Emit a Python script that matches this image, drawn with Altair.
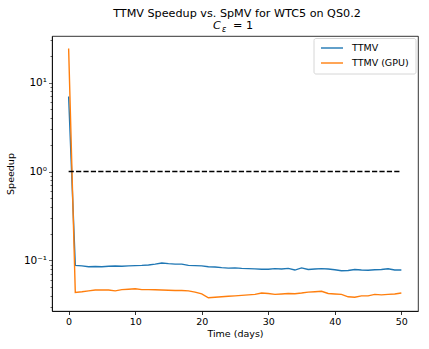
import altair as alt
import pandas as pd

# Simulation days and measured speedups (TTMV time / SpMV time ratio)
days = list(range(0, 51))
ttmv = [7.0, 0.088, 0.087, 0.085, 0.0855, 0.085, 0.086, 0.0865, 0.086, 0.087,
        0.0875, 0.088, 0.089, 0.091, 0.0935, 0.092, 0.091, 0.091, 0.088, 0.0875,
        0.087, 0.085, 0.0845, 0.083, 0.082, 0.0825, 0.0815, 0.081, 0.0805, 0.0795,
        0.0795, 0.081, 0.080, 0.0815, 0.078, 0.0825, 0.079, 0.080, 0.081, 0.080,
        0.0785, 0.0765, 0.077, 0.079, 0.078, 0.0775, 0.0785, 0.079, 0.0805, 0.078,
        0.078]
ttmv_gpu = [24.3, 0.0437, 0.0445, 0.0455, 0.0465, 0.0465, 0.0465, 0.0455, 0.047, 0.0475,
            0.048, 0.047, 0.047, 0.0468, 0.0465, 0.0462, 0.046, 0.046, 0.0455, 0.044,
            0.042, 0.038, 0.0385, 0.039, 0.0395, 0.040, 0.0405, 0.041, 0.0415, 0.043,
            0.0425, 0.0415, 0.042, 0.0425, 0.0422, 0.043, 0.044, 0.0445, 0.045, 0.0425,
            0.042, 0.0415, 0.039, 0.0385, 0.040, 0.040, 0.0415, 0.041, 0.0415, 0.042,
            0.043]
series_names = ["TTMV", "TTMV (GPU)"]
series_colors = ["#1f77b4", "#ff7f0e"]

# Break-even reference line
ref_days = [0, 50]
ref_speedup = [1, 1]

x_ticks = [0, 10, 20, 30, 40, 50]
y_major = [0.1, 1, 10]
y_minor = [0.03, 0.04, 0.05, 0.06, 0.07, 0.08, 0.09,
           0.2, 0.3, 0.4, 0.5, 0.6, 0.7, 0.8, 0.9,
           2, 3, 4, 5, 6, 7, 8, 9, 20, 30]

FONT = "DejaVu Sans"
W, H = 366, 275

df = pd.DataFrame({
    "day": days * 2,
    "speedup": ttmv + ttmv_gpu,
    "series": [series_names[0]] * len(days) + [series_names[1]] * len(days),
})
ref = pd.DataFrame({"day": ref_days, "speedup": ref_speedup})

x_scale = alt.Scale(domain=[-2.5, 52.5], nice=False, zero=False)
y_scale = alt.Scale(type="log", domain=[0.027, 33.5], nice=False)

x_enc = alt.X("day:Q", scale=x_scale, title="Time (days)",
              axis=alt.Axis(values=x_ticks, grid=False, tickSize=3.5, labelPadding=2,
                            labelFontSize=9.5, titleFontSize=9.5, titleFontWeight="normal",
                            titlePadding=2, domainColor="black", tickColor="black",
                            labelColor="black", titleColor="black",
                            domainWidth=0.8, tickWidth=0.8, labelFont=FONT, titleFont=FONT))

all_y = sorted(y_major + y_minor)
y_enc = alt.Y("speedup:Q", scale=y_scale, title="Speedup",
              axis=alt.Axis(values=all_y, grid=False,
                            tickSize={"condition": {"test": "indexof([0.1, 1, 10], datum.value) >= 0", "value": 3.5}, "value": 2},
                            labelExpr="datum.value == 0.1 ? '10⁻¹' : datum.value == 1 ? '10⁰' : datum.value == 10 ? '10¹' : ''",
                            labelPadding=2, labelFontSize=10.5, titleFontSize=9.5,
                            titleFontWeight="normal", titlePadding=8,
                            domainColor="black", tickColor="black", labelColor="black",
                            titleColor="black", domainWidth=0.8, tickWidth=0.6,
                            labelFont=FONT, titleFont=FONT))

lines = alt.Chart(df).mark_line(strokeWidth=1.4, clip=True).encode(
    x=x_enc,
    y=y_enc,
    color=alt.Color("series:N",
                    scale=alt.Scale(domain=series_names, range=series_colors),
                    legend=None),
)

ref_line = alt.Chart(ref).mark_line(color="black", strokeWidth=1.4,
                                    strokeDash=[5.2, 2.2]).encode(
    x=alt.X("day:Q", scale=x_scale),
    y=alt.Y("speedup:Q", scale=y_scale),
)

# Legend box in the upper right corner
one = pd.DataFrame({"k": [0]})
legend_box = alt.Chart(one).mark_rect(fill="white", stroke="#cccccc", strokeWidth=0.8,
                                      cornerRadius=2).encode(
    x=alt.value(262), x2=alt.value(364), y=alt.value(2.5), y2=alt.value(38))
legend_parts = [legend_box]
for i, (name, col) in enumerate(zip(series_names, series_colors)):
    yy = 12 + 15 * i
    legend_parts.append(alt.Chart(one).mark_rule(color=col, strokeWidth=1.4).encode(
        x=alt.value(269), x2=alt.value(291), y=alt.value(yy)))
    legend_parts.append(alt.Chart(pd.DataFrame({"t": [name]})).mark_text(
        font=FONT, fontSize=9.5, color="black", align="left", baseline="middle").encode(
        text="t:N", x=alt.value(300), y=alt.value(yy)))

# Two-line title with an italic C and subscript epsilon on the second line
title_df = pd.DataFrame({"t": ["TTMV Speedup vs. SpMV for WTC5 on QS0.2"]})
title1 = alt.Chart(title_df).mark_text(font=FONT, fontSize=11.2, color="black",
                                       align="center", baseline="alphabetic").encode(
    text="t:N", x=alt.value(W / 2 + 2), y=alt.value(-19))
sub_c = alt.Chart(pd.DataFrame({"t": ["C"]})).mark_text(
    font=FONT, fontSize=11.2, fontStyle="italic", color="black",
    align="left", baseline="alphabetic").encode(
    text="t:N", x=alt.value(161), y=alt.value(-7))
sub_e = alt.Chart(pd.DataFrame({"t": ["ε"]})).mark_text(
    font=FONT, fontSize=8, fontStyle="italic", color="black",
    align="left", baseline="alphabetic").encode(
    text="t:N", x=alt.value(170), y=alt.value(-4.5))
sub_rest = alt.Chart(pd.DataFrame({"t": ["= 1"]})).mark_text(
    font=FONT, fontSize=11.2, color="black",
    align="left", baseline="alphabetic").encode(
    text="t:N", x=alt.value(181), y=alt.value(-7))

chart = alt.layer(lines, ref_line, *legend_parts, title1, sub_c, sub_e, sub_rest).properties(
    width=W, height=H,
    autosize=alt.AutoSizeParams(type="none"),
    padding={"left": 52, "top": 36, "right": 11, "bottom": 38},
    background="white",
).configure_view(stroke="black", strokeWidth=0.8)

chart.save("out.html", embed_options={"renderer": "svg", "actions": False})
